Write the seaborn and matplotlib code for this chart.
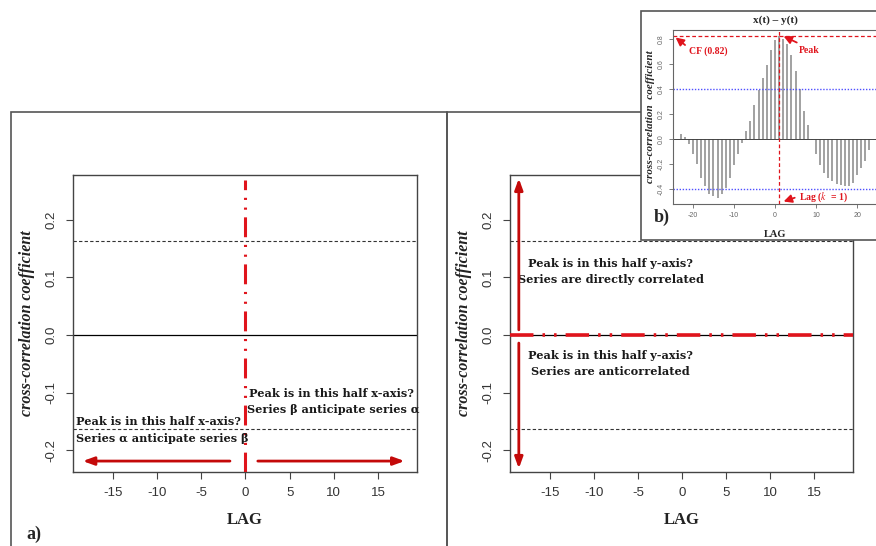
import matplotlib
matplotlib.use("Agg")
import matplotlib.pyplot as plt
import seaborn as sns
import pandas as pd
from matplotlib.patches import Rectangle, FancyArrowPatch

# data
lag_ticks = [-15, -10, -5, 0, 5, 10, 15]
coef_ticks = [-0.2, -0.1, 0.0, 0.1, 0.2]
coef_labels = ["-0.2", "-0.1", "0.0", "0.1", "0.2"]
conf_bound = 0.163

inset_lags = list(range(-23, 24))
inset_ccf = [0.04, 0.015, -0.04, -0.12, -0.20, -0.31, -0.38, -0.44, -0.46, -0.47,
             -0.44, -0.39, -0.31, -0.21, -0.12, -0.03,
             0.06, 0.14, 0.27, 0.39, 0.49, 0.59, 0.71, 0.79,
             0.82, 0.80, 0.76, 0.67, 0.54, 0.40, 0.22, 0.11,
             -0.01, -0.12, -0.21, -0.27, -0.31, -0.34, -0.36, -0.37, -0.38,
             -0.38, -0.35, -0.29, -0.23, -0.18, -0.085]
inset_xticks = [-20, -10, 0, 10, 20]
inset_yticks = [-0.4, -0.2, 0.0, 0.2, 0.4, 0.6, 0.8]
inset_ylabels = ["-0.4", "-0.2", "0.0", "0.2", "0.4", "0.6", "0.8"]
inset_conf = 0.4
cf_value = 0.82
peak_lag = 1

sns.set_theme(style="ticks")
plt.rcParams["axes.unicode_minus"] = False
plt.rcParams["font.family"] = ["Liberation Sans", "DejaVu Sans"]
plt.rcParams["mathtext.fontset"] = "stix"
serif = ["Liberation Serif", "DejaVu Serif"]
wide_serif = ["DejaVu Serif", "Liberation Serif"]

RED = "#e0141c"
DARKRED = "#c40a0a"

W, H = 876, 546


def box(x0, y0, x1, y1):
    """pixel box (top-left origin) -> figure fraction rect"""
    return [x0 / W, 1 - y1 / H, (x1 - x0) / W, (y1 - y0) / H]


fig = plt.figure(figsize=(8.76, 5.46), dpi=100)

# panel frames
for x0, x1 in [(11, 447), (447, 900)]:
    fig.add_artist(Rectangle((x0 / W, -0.1), (x1 - x0) / W, 1.1 - 112 / H,
                             transform=fig.transFigure, fill=False,
                             edgecolor="#555555", lw=1.2, zorder=1))


def style_main(ax):
    ax.set_xlim(-19.5, 19.4)
    ax.set_ylim(-0.238, 0.278)
    ax.set_xticks(lag_ticks)
    ax.set_xticklabels([str(t) for t in lag_ticks])
    ax.set_yticks(coef_ticks)
    ax.set_yticklabels(coef_labels, rotation=90, va="center")
    ax.tick_params(direction="out", length=5, width=0.8, color="#444444",
                   labelsize=9.5, labelcolor="#333333", pad=6)
    for s in ax.spines.values():
        s.set_color("#444444")
        s.set_linewidth(1)
    ax.set_xlabel("LAG", family=serif, fontweight="bold", fontsize=12, color="#222222")
    ax.set_ylabel("cross-correlation coefficient", family=serif, fontweight="bold",
                  fontstyle="italic", fontsize=11.5, color="#222222")
    ax.xaxis.set_label_coords(0.5, -0.135)
    ax.yaxis.set_label_coords(-0.11, 0.5)
    ax.axhline(0, color="black", lw=0.9, zorder=1)
    for c in (conf_bound, -conf_bound):
        ax.axhline(c, color="#333333", lw=0.8, ls=(0, (3, 2)), zorder=1)


def arrow(ax, p0, p1, color, lw=2.0, head="-|>,head_length=0.55,head_width=0.2"):
    ax.add_patch(FancyArrowPatch(p0, p1, arrowstyle=head, color=color, lw=lw,
                                 shrinkA=0, shrinkB=0, mutation_scale=12, zorder=4))


txt = dict(family=wide_serif, fontweight="bold", fontsize=8.1, color="#1a1a1a")

# a) panel
ax1 = fig.add_axes(box(73, 175, 417, 472))
style_main(ax1)
ax1.plot([0, 0], [-0.238, 0.27], color=RED, lw=2.2,
         ls=(0, (6.5, 2.5, 0.7, 2.5, 0.7, 2.5)), zorder=3)
arrow(ax1, (-1.75, -0.219), (-18.4, -0.219), DARKRED)
arrow(ax1, (1.4, -0.219), (18.0, -0.219), DARKRED)
ax1.text(-19.2, -0.151, "Peak is in this half x-axis?", ha="left", va="center", **txt)
ax1.text(-19.2, -0.179, "Series α anticipate series β", ha="left", va="center", **txt)
ax1.text(0.4, -0.101, "Peak is in this half x-axis?", ha="left", va="center", **txt)
ax1.text(0.2, -0.130, "Series β anticipate series α", ha="left", va="center", **txt)
fig.text(34 / W, 1 - 534 / H, "a)", family=serif, fontweight="bold", fontsize=13,
         ha="center", va="center")

# right panel
ax2 = fig.add_axes(box(510, 175, 853, 472))
style_main(ax2)
ax2.plot([-19.5, 19.4], [0, 0], color=RED, lw=2.6,
         ls=(0, (6.5, 2.5, 0.7, 2.5, 0.7, 2.5)), zorder=3)
arrow(ax2, (-18.5, 0.009), (-18.5, 0.272), DARKRED)
arrow(ax2, (-18.5, -0.014), (-18.5, -0.232), DARKRED)
ax2.text(-8.1, 0.125, "Peak is in this half y-axis?", ha="center", va="center", **txt)
ax2.text(-8.1, 0.097, "Series are directly correlated", ha="center", va="center", **txt)
ax2.text(-8.1, -0.035, "Peak is in this half y-axis?", ha="center", va="center", **txt)
ax2.text(-8.1, -0.064, "Series are anticorrelated", ha="center", va="center", **txt)

# b) inset
fig.add_artist(Rectangle((641 / W, 1 - 240 / H), (900 - 641) / W, (240 - 11) / H,
                         transform=fig.transFigure, facecolor="white",
                         edgecolor="#555555", lw=1.2, zorder=1.5))
ax3 = fig.add_axes(box(673, 30, 877, 204))
ax3.set_zorder(2)
ccf_df = pd.DataFrame({"lag": inset_lags, "ccf": inset_ccf})
ax3.vlines(ccf_df["lag"], 0, ccf_df["ccf"], color="#9a9a9a", lw=1.3)
ax3.axhline(0, color="#444444", lw=0.7)
for c in (inset_conf, -inset_conf):
    ax3.axhline(c, color="#5050ff", lw=1.0, ls=(0, (1, 1.2)))
ax3.axhline(cf_value, color=RED, lw=0.9, ls=(0, (3, 2)))
ax3.axvline(peak_lag, color=RED, lw=0.9, ls=(0, (3, 2)))
ax3.set_xlim(-24.84, 24.84)
ax3.set_ylim(-0.52, 0.87)
ax3.set_xticks(inset_xticks)
ax3.set_xticklabels([str(t) for t in inset_xticks])
ax3.set_yticks(inset_yticks)
ax3.set_yticklabels(inset_ylabels, rotation=90, va="center")
ax3.tick_params(direction="out", length=3, width=0.6, color="#666666",
                labelsize=5, labelcolor="#666666", pad=3)
for s in ax3.spines.values():
    s.set_color("#666666")
    s.set_linewidth(0.8)
ax3.set_title("x(t) – y(t)", family=serif, fontweight="bold", fontsize=8, pad=5)
ax3.set_xlabel("LAG", family=serif, fontweight="bold", fontsize=7.5)
ax3.set_ylabel("cross-correlation  coefficient", family=serif, fontweight="bold",
               fontstyle="italic", fontsize=8)
ax3.xaxis.set_label_coords(0.5, -0.149)
ax3.yaxis.set_label_coords(-0.088, 0.5)

small = dict(family=serif, fontweight="bold", fontsize=7, color=RED)
ax3.text(-21.0, 0.70, "CF (0.82)", ha="left", va="center", **small)
ax3.text(5.8, 0.71, "Peak", ha="left", va="center", **small)
ax3.text(5.8, -0.47, r"Lag ($k$  = 1)", ha="left", va="center", **small)
arrow(ax3, (-21.9, 0.75), (-24.2, 0.81), RED, lw=1.3,
      head="-|>,head_length=0.4,head_width=0.2")
arrow(ax3, (5.3, 0.77), (2.1, 0.82), RED, lw=1.3,
      head="-|>,head_length=0.4,head_width=0.2")
arrow(ax3, (4.8, -0.47), (2.1, -0.50), RED, lw=1.3,
      head="-|>,head_length=0.4,head_width=0.2")
fig.text(662 / W, 1 - 217 / H, "b)", family=serif, fontweight="bold", fontsize=13,
         ha="center", va="center", zorder=3)

fig.savefig("out.png", dpi=100)
